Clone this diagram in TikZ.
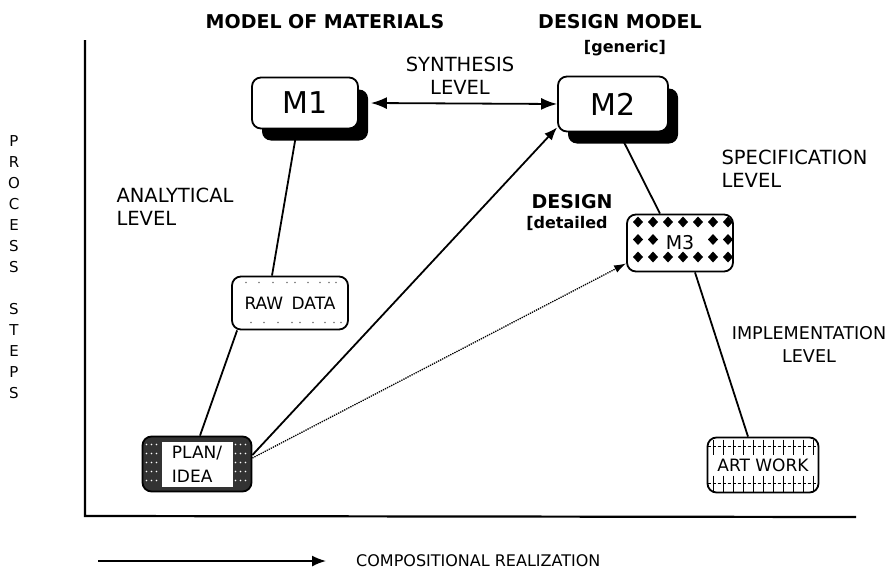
\documentclass[tikz,border=0pt]{standalone}
\usepackage{fontspec}
\setmainfont{DejaVu Sans}
\usetikzlibrary{arrows.meta,shadows}

\begin{document}
\begin{tikzpicture}[x=1pt, y=-1pt, >={Latex[length=14pt,width=11pt]},
    lvl/.style={font=\fontsize{19.5}{23}\selectfont},
    head/.style={font=\fontsize{19}{20}\selectfont\bfseries},
    sub/.style={font=\fontsize{16}{18}\selectfont\bfseries},
    box/.style={draw, line width=1.8pt, rounded corners=9pt, fill=white, inner sep=0pt,
        font=\fontsize{17}{24}\selectfont, align=left},
    model/.style={box, font=\fontsize{30}{32}\selectfont,
        drop shadow={shadow xshift=10pt, shadow yshift=-12pt, fill=black, opacity=1}},
    link/.style={line width=1.8pt},
    dia/.style={fill=black, sharp corners}]
\useasboundingbox (0,0) rectangle (888,570);

% axes
\coordinate (top) at (85,40);
\coordinate (o) at (85,516);
\coordinate (xend) at (856,517);
\draw[line width=2.2pt] (top) -- (o) -- (xend);

% headings
\node[head] (hmat) at (325,22) {MODEL OF MATERIALS};
\node[head] (hdes) at (620,22) {DESIGN MODEL};
\node[sub] (hgen) at (625,48) {[generic]};
\node[head] (hdet) at (572,202) {DESIGN};
\node[sub] (hdet2) at (567,223) {[detailed};

% levels
\node[lvl, align=center] (syn) at (460,76) {SYNTHESIS\\LEVEL};
\node[lvl, align=left, anchor=west] (ana) at (113,207) {ANALYTICAL\\LEVEL};
\node[lvl, align=left, anchor=west] (spec) at (718,169) {SPECIFICATION\\LEVEL};
\node[lvl, align=center, font=\fontsize{17.6}{23}\selectfont] (impl) at (809,344) {IMPLEMENTATION\\LEVEL};

% vertical label
\node[font=\fontsize{15}{21}\selectfont, align=center] (steps) at (14,267)
    {P\\R\\O\\C\\E\\S\\S\\\mbox{}\\S\\T\\E\\P\\S};

% models
\node[model, minimum width=106pt, minimum height=51pt] (m1) at (305,103) {M1};
\node[model, minimum width=110pt, minimum height=55pt] (m2) at (613,104) {M2};
\node[box, minimum width=106pt, minimum height=57pt, font=\fontsize{19}{24}\selectfont,
    path picture={
    \foreach \i in {0,...,6} \foreach \j in {2,37}
        \fill[dia] ([shift={(11+15*\i,\j)}]path picture bounding box.north west)
            -- ++(5,5.5) -- ++(-5,5.5) -- ++(-5,-5.5) -- cycle;
    \foreach \i in {0,1,5,6}
        \fill[dia] ([shift={(11+15*\i,19.5)}]path picture bounding box.north west)
            -- ++(5,5.5) -- ++(-5,5.5) -- ++(-5,-5.5) -- cycle;
    }] (m3) at (680,243) {M3};
\node[box, minimum width=116pt, minimum height=53pt,
    path picture={
    \foreach \d in {14,27,41,55,63,76,88,97,104} {
        \fill[black!55] ([shift={(\d,6)}]path picture bounding box.north west) circle (0.9);
        \fill[black!55] ([shift={(\d+5,46)}]path picture bounding box.north west) circle (0.9);
    }
    }] (raw) at (290,303) {RAW\enspace DATA};
\node[box, minimum width=109pt, minimum height=55pt, fill=black!80,
    path picture={
    \fill[white, sharp corners] ([shift={(19,5)}]path picture bounding box.north west)
        rectangle ([shift={(-19,-5)}]path picture bounding box.south east);
    \foreach \d in {4,9,14,93,98,103} \foreach \e in {8,17,26,35,44}
        \fill[white] ([shift={(\d,\e)}]path picture bounding box.north west) circle (0.8);
    }] (plan) at (197,464) {PLAN/\\IDEA};
\node[box, minimum width=111pt, minimum height=55pt,
    path picture={
    \foreach \d in {0,...,10} {
        \draw[line width=1.3pt] ([shift={(6+10*\d,2)}]path picture bounding box.north west) -- ++(0,15);
        \draw[line width=1.3pt] ([shift={(6+10*\d,38)}]path picture bounding box.north west) -- ++(0,17);
    }
    \draw[line width=1pt, densely dashed] ([shift={(0,9)}]path picture bounding box.north west) -- ++(111,0);
    \draw[line width=1pt, densely dashed] ([shift={(0,46)}]path picture bounding box.north west) -- ++(111,0);
    }] (art) at (763,465) {ART WORK};

% connections
\draw[link, <->, >={Latex[length=16pt,width=12pt]}] ([xshift=12pt]m1.east) -- (m2.west);
\draw[link] ([xshift=-8pt]m1.south) -- ([xshift=-18pt]raw.north);
\draw[link] ([xshift=6pt]raw.south west) -- ([xshift=3pt]plan.north);
\draw[link, ->, >={Latex[length=13pt,width=10pt]}] ([yshift=9pt]plan.east) -- ([yshift=5pt]m2.south west);
\draw[line width=1.3pt, densely dotted, ->, >={Latex[length=12pt,width=8pt]}]
    ([yshift=6pt]plan.east) -- ([yshift=9pt]m3.south west);
\draw[link] ([xshift=6pt]m2.south) -- ([xshift=-20pt]m3.north);
\draw[link] ([xshift=15pt]m3.south) -- ([xshift=-15pt]art.north);

% legend
\coordinate (la) at (98,561);
\coordinate (lb) at (326,561);
\draw[line width=1.6pt, ->, >={Latex[length=14pt,width=11pt]}] (la) -- (lb);
\node[font=\fontsize{16}{18}\selectfont, anchor=west, inner sep=1pt] (comp) at (355,561) {COMPOSITIONAL REALIZATION};
\end{tikzpicture}
\end{document}
